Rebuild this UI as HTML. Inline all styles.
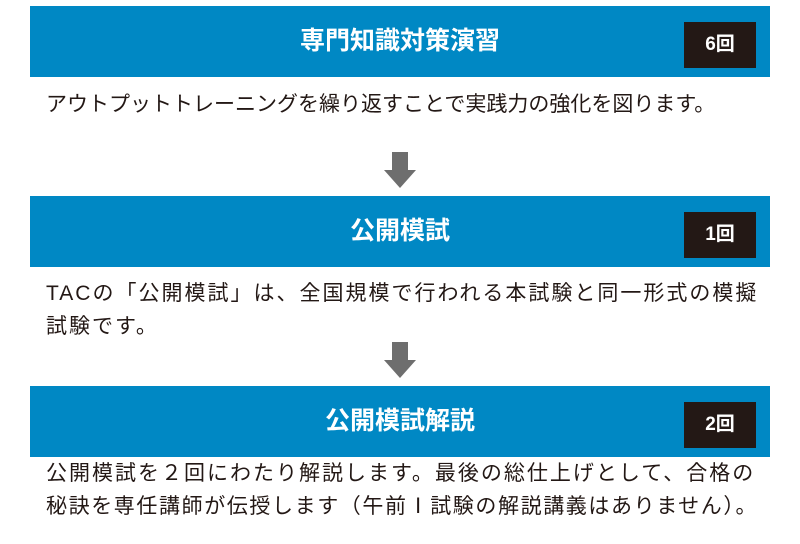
<!DOCTYPE html>
<html><head><meta charset="utf-8"><style>
body{margin:0;width:800px;height:544px;background:#fff;font-family:"Liberation Sans","Noto Sans CJK JP",sans-serif;position:relative;overflow:hidden}
.bar{position:absolute;left:30px;width:740px;height:71px;background:#0088c4;color:#fff;font-weight:bold;font-size:25px;text-align:center;line-height:71px}
.badge{position:absolute;left:654px;top:16px;width:72px;height:46px;background:#231815;color:#fff;font-size:19px;line-height:46px;text-align:center}
.t{position:absolute;left:46px;font-size:21px;color:#231815;line-height:33px;white-space:nowrap}
.arr{position:absolute;left:384px;width:32px;height:36px}
</style></head><body>
<div class="bar" style="top:6px">専門知識対策演習<div class="badge">6回</div></div>
<div class="t" style="top:88px">アウトプットトレーニングを繰り返すことで実践力の強化を図ります。</div>
<svg class="arr" style="top:152px" viewBox="0 0 32 36"><polygon points="8,0 24,0 24,18 32,18 16,36 0,18 8,18" fill="#6e6e6e"/></svg>
<div class="bar" style="top:196px">公開模試<div class="badge">1回</div></div>
<div class="t" style="top:277px;letter-spacing:2px">TACの「公開模試」は、全国規模で行われる本試験と同一形式の模擬<br>試験です。</div>
<svg class="arr" style="top:342px" viewBox="0 0 32 36"><polygon points="8,0 24,0 24,18 32,18 16,36 0,18 8,18" fill="#6e6e6e"/></svg>
<div class="bar" style="top:386px">公開模試解説<div class="badge">2回</div></div>
<div class="t" style="top:457px;letter-spacing:2px">公開模試を２回にわたり解説します。最後の総仕上げとして、合格の<br><span style="letter-spacing:1.6px">秘訣を専任講師が伝授します（午前Ⅰ試験の解説講義はありません）。</span></div>
</body></html>
